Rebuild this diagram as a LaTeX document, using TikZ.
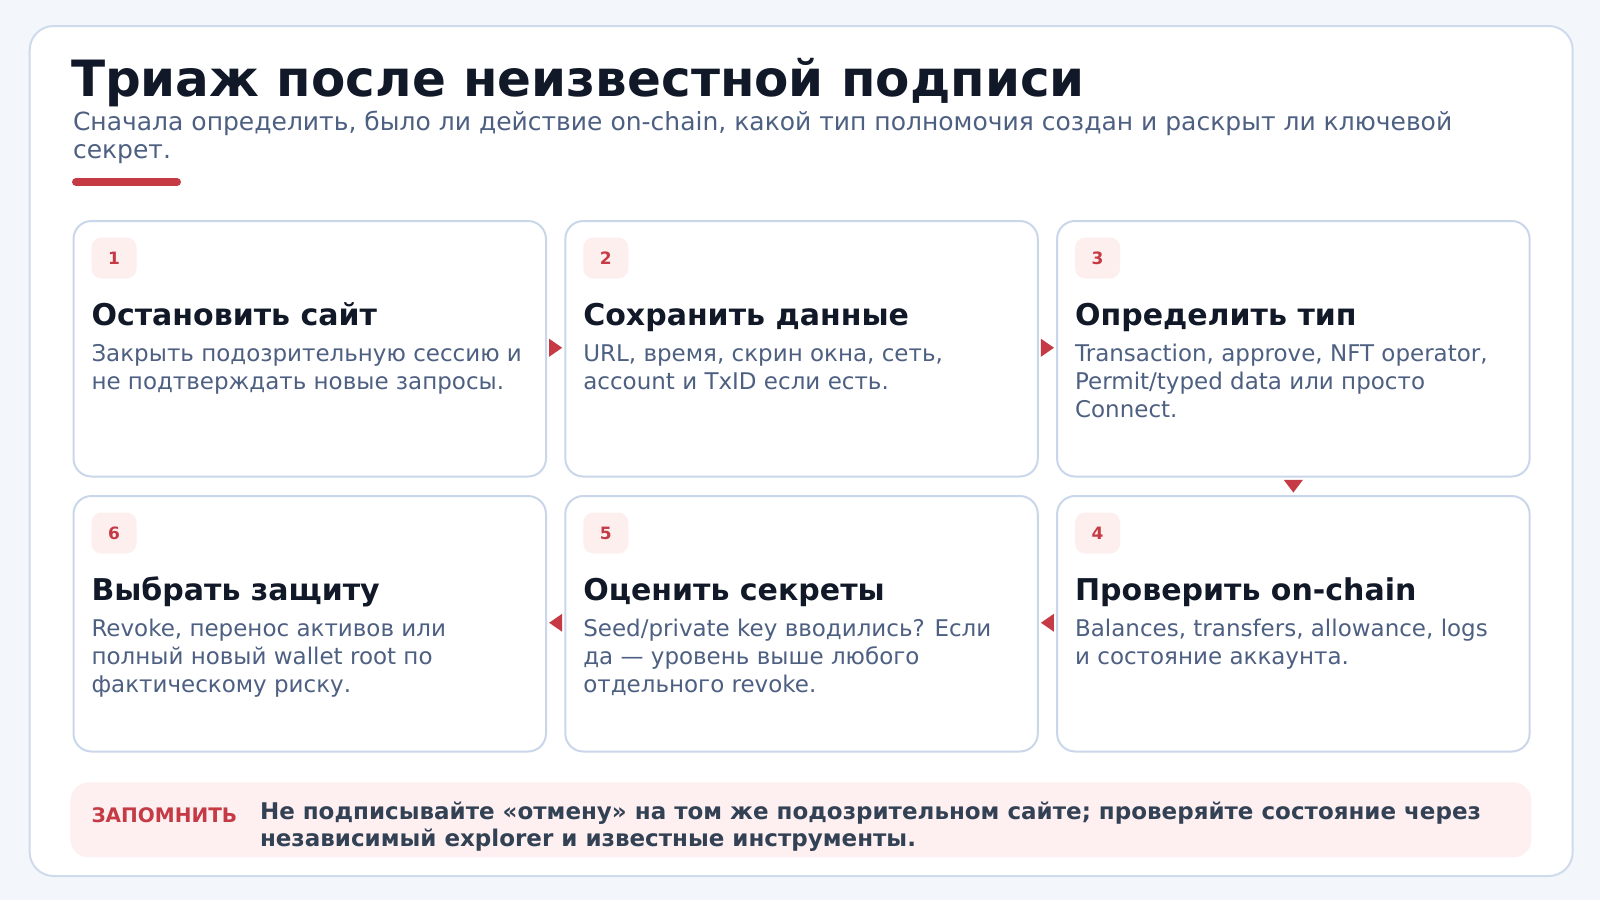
\documentclass[tikz,border=0pt]{standalone}
\usepackage{fontspec}
\setmainfont{DejaVu Sans}
\usetikzlibrary{calc}
\definecolor{pagebg}{HTML}{F3F6FB}
\definecolor{outerline}{HTML}{CFDBEC}
\definecolor{cardline}{HTML}{CAD7EA}
\definecolor{titlecol}{HTML}{111827}
\definecolor{bodycol}{HTML}{4E6082}
\definecolor{accent}{HTML}{C53A45}
\definecolor{badgefill}{HTML}{FEEFEF}
\definecolor{notefill}{HTML}{FEF0F1}
\definecolor{notetext}{HTML}{334155}
\tikzset{
  txt/.style={anchor=base west, inner sep=0pt, outer sep=0pt},
  titletxt/.style={txt, text=titlecol, font=\fontsize{25pt}{30pt}\selectfont\bfseries},
  subtxt/.style={txt, text=bodycol, font=\fontsize{12.5pt}{15pt}\selectfont},
  headtxt/.style={txt, text=titlecol, font=\fontsize{15pt}{18pt}\selectfont\bfseries},
  bodytxt/.style={txt, text=bodycol, font=\fontsize{11.5pt}{14pt}\selectfont},
  notelabel/.style={txt, text=accent, font=\fontsize{10pt}{12pt}\selectfont\bfseries},
  notetxt/.style={txt, text=notetext, font=\fontsize{11.5pt}{14pt}\selectfont\bfseries},
  cardbox/.style={draw=cardline, line width=1pt, fill=white, rounded corners=9pt,
    minimum width=236.25pt, minimum height=127.75pt, anchor=north west, inner sep=0pt},
  badgebox/.style={fill=badgefill, rounded corners=5pt, minimum width=22.5pt,
    minimum height=20.5pt, inner sep=0pt, text=accent,
    font=\fontsize{8.5pt}{10pt}\selectfont\bfseries},
  tri/.style={fill=accent, draw=none},
}
\begin{document}
\begin{tikzpicture}[x=0.5pt, y=-0.5pt]
\useasboundingbox (0,0) rectangle (1600,900);
\fill[pagebg] (0,0) rectangle (1600,900);
% outer card
\node[draw=outerline, line width=1pt, fill=white, rounded corners=12pt,
  minimum width=771.5pt, minimum height=425pt, anchor=north west, inner sep=0pt]
  (outer) at (28.7,25) {};
% title
\node[titletxt] (title) at (71,96) {Триаж после неизвестной подписи};
\node[subtxt] (sub1) at (73,130) {Сначала определить, было ли действие on-chain, какой тип полномочия создан и раскрыт ли ключевой};
\node[subtxt] (sub2) at (73,158.5) {секрет.};
\coordinate (ulA) at (76,182);
\coordinate (ulB) at (177,182);
\draw[accent, line width=4pt, line cap=round] (ulA) -- (ulB);
% cards
\node[cardbox] (c1) at (72.5,220) {};
\node[cardbox] (c2) at (564.3,220) {};
\node[cardbox] (c3) at (1056.1,220) {};
\node[cardbox] (c6) at (72.5,495) {};
\node[cardbox] (c5) at (564.3,495) {};
\node[cardbox] (c4) at (1056.1,495) {};
% badges
\foreach \c/\n in {c1/1,c2/2,c3/3,c4/4,c5/5,c6/6}{
  \node[badgebox] (b\n) at ($(\c.north west)+(41.5,38)$) {\n};
}
% card 1
\node[headtxt] (h1) at ($(c1.north west)+(19,105.5)$) {Остановить сайт};
\node[bodytxt] (t1a) at ($(c1.north west)+(19,141.5)$) {Закрыть подозрительную сессию и};
\node[bodytxt] (t1b) at ($(c1.north west)+(19,169.5)$) {не подтверждать новые запросы.};
% card 2
\node[headtxt] (h2) at ($(c2.north west)+(19,105.5)$) {Сохранить данные};
\node[bodytxt] (t2a) at ($(c2.north west)+(19,141.5)$) {URL, время, скрин окна, сеть,};
\node[bodytxt] (t2b) at ($(c2.north west)+(19,169.5)$) {account и TxID если есть.};
% card 3
\node[headtxt] (h3) at ($(c3.north west)+(19,105.5)$) {Определить тип};
\node[bodytxt] (t3a) at ($(c3.north west)+(19,141.5)$) {Transaction, approve, NFT operator,};
\node[bodytxt] (t3b) at ($(c3.north west)+(19,169.5)$) {Permit/typed data или просто};
\node[bodytxt] (t3c) at ($(c3.north west)+(19,197)$) {Connect.};
% card 4
\node[headtxt] (h4) at ($(c4.north west)+(19,105.5)$) {Проверить on-chain};
\node[bodytxt] (t4a) at ($(c4.north west)+(19,141.5)$) {Balances, transfers, allowance, logs};
\node[bodytxt] (t4b) at ($(c4.north west)+(19,169.5)$) {и состояние аккаунта.};
% card 5
\node[headtxt] (h5) at ($(c5.north west)+(19,105.5)$) {Оценить секреты};
\node[bodytxt] (t5a) at ($(c5.north west)+(19,141.5)$) {Seed/private key вводились? Если};
\node[bodytxt] (t5b) at ($(c5.north west)+(19,169.5)$) {да — уровень выше любого};
\node[bodytxt] (t5c) at ($(c5.north west)+(19,197)$) {отдельного revoke.};
% card 6
\node[headtxt] (h6) at ($(c6.north west)+(19,105.5)$) {Выбрать защиту};
\node[bodytxt] (t6a) at ($(c6.north west)+(19,141.5)$) {Revoke, перенос активов или};
\node[bodytxt] (t6b) at ($(c6.north west)+(19,169.5)$) {полный новый wallet root по};
\node[bodytxt] (t6c) at ($(c6.north west)+(19,197)$) {фактическому риску.};
% connectors (triangles)
\coordinate (m12) at ($(c1.east)!0.5!(c2.west)+(0,-1)$);
\coordinate (m23) at ($(c2.east)!0.5!(c3.west)+(0,-1)$);
\coordinate (m34) at ($(c3.south)!0.5!(c4.north)$);
\coordinate (m45) at ($(c4.west)!0.5!(c5.east)+(0,-1)$);
\coordinate (m56) at ($(c5.west)!0.5!(c6.east)+(0,-1)$);
\fill[tri] ($(m12)+(-6.5,-9)$) -- ($(m12)+(6.5,0)$) -- ($(m12)+(-6.5,9)$) -- cycle;
\fill[tri] ($(m23)+(-6.5,-9)$) -- ($(m23)+(6.5,0)$) -- ($(m23)+(-6.5,9)$) -- cycle;
\fill[tri] ($(m34)+(-9.5,-6.3)$) -- ($(m34)+(9.5,-6.3)$) -- ($(m34)+(0,6.3)$) -- cycle;
\fill[tri] ($(m45)+(6.5,-9)$) -- ($(m45)+(-6.5,0)$) -- ($(m45)+(6.5,9)$) -- cycle;
\fill[tri] ($(m56)+(6.5,-9)$) -- ($(m56)+(-6.5,0)$) -- ($(m56)+(6.5,9)$) -- cycle;
% note
\node[fill=notefill, rounded corners=9pt, minimum width=730.5pt, minimum height=37.5pt,
  anchor=north west, inner sep=0pt] (note) at (70,782) {};
\node[notelabel] (nlab) at (91.5,822.7) {ЗАПОМНИТЬ};
\node[notetxt] (n1) at (260,819.3) {Не подписывайте «отмену» на том же подозрительном сайте; проверяйте состояние через};
\node[notetxt] (n2) at (260,846.7) {независимый explorer и известные инструменты.};
\end{tikzpicture}
\end{document}
